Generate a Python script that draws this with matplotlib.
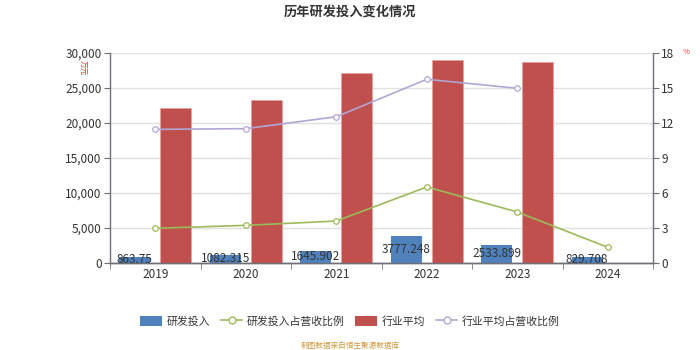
import numpy as np
import matplotlib
matplotlib.use('Agg')
import matplotlib.pyplot as plt
from matplotlib.patches import Patch
from matplotlib.lines import Line2D
from matplotlib.ticker import FuncFormatter, FixedLocator

plt.rcParams['font.family'] = ['Noto Sans CJK SC', 'DejaVu Sans']

# data
years = ['2019', '2020', '2021', '2022', '2023', '2024']
rd_spend = [863.75, 1082.315, 1645.902, 3777.248, 2533.899, 829.708]
rd_ratio = [2.95, 3.20, 3.57, 6.49, 4.35, 1.32]
ind_avg = [22050, 23230, 27050, 28960, 28700]
ind_ratio = [11.43, 11.49, 12.51, 15.72, 14.95]

c_blue = '#4f81bd'
c_red = '#c0504d'
c_green = '#9bbb59'
c_purple = '#b3a6d6'
c_text = '#333333'
c_axis = '#6e7079'

fig = plt.figure(figsize=(7, 3.5), dpi=100)
ax = fig.add_axes([110/700, 1 - 262.7/350, 543/700, 210/350])
ax2 = ax.twinx()

x = np.arange(len(years))
w = 0.345
off = 0.227

ax.bar(x - off, rd_spend, width=w, color=c_blue, zorder=3)
ax.bar(x[:len(ind_avg)] + off, ind_avg, width=w, color=c_red,
       edgecolor='#e8a0a0', linewidth=0.5, zorder=3)

for xi, v in zip(x, rd_spend):
    ax.text(xi - off, v / 2, str(v), ha='center', va='center',
            fontsize=8.5, color=c_text, zorder=5)

ax2.plot(x, rd_ratio, color=c_green, lw=1.2, marker='o', ms=4,
         mfc='white', mec=c_green, mew=0.9, zorder=4)
ax2.plot(x[:len(ind_ratio)], ind_ratio, color=c_purple, lw=1.2, marker='o',
         ms=4, mfc='white', mec=c_purple, mew=0.9, zorder=4)

ax.set_xlim(-0.5, len(years) - 0.5)
ax.set_ylim(0, 30000)
ax2.set_ylim(0, 18)
ax.set_yticks(np.arange(0, 30001, 5000))
ax2.set_yticks(np.arange(0, 19, 3))
ax.yaxis.set_major_formatter(FuncFormatter(lambda v, p: f'{int(v):,}'))

ax.set_xticks(x)
ax.set_xticklabels(years)
ax.xaxis.set_minor_locator(FixedLocator(np.arange(-0.5, len(years), 1)))
ax.tick_params(axis='x', which='major', length=0, pad=4, labelsize=8.5, labelcolor=c_text)
ax.tick_params(axis='x', which='minor', length=4, color=c_axis, direction='out')
ax.tick_params(axis='y', length=4, color=c_axis, labelsize=8.5, labelcolor=c_text, pad=2)
ax2.tick_params(axis='y', length=4, color=c_axis, labelsize=8.5, labelcolor=c_text, pad=2)

ax.grid(axis='y', color='#e0e0e0', lw=1, zorder=0)
ax.set_axisbelow(True)
for a in (ax, ax2):
    a.spines['top'].set_visible(False)
    for s in ('left', 'right', 'bottom'):
        a.spines[s].set_color(c_axis)
        a.spines[s].set_linewidth(1)
ax2.spines['left'].set_visible(False)
ax.spines['right'].set_visible(False)

fig.text(0.5, 1 - 12/350, '历年研发投入变化情况', ha='center', va='center',
         fontsize=9.5, fontweight='bold', color=c_text)
fig.text(82/700, 1 - 68/350, '万元', ha='center', va='center', rotation=-90,
         fontsize=5.5, color='#ee3333')
fig.text(686/700, 1 - 52/350, '%', ha='center', va='center',
         fontsize=5.5, color='#ee3333')

handles = [
    Patch(facecolor=c_blue, edgecolor='none'),
    Line2D([], [], color=c_green, lw=1.2, marker='o', ms=5, mfc='white', mec=c_green),
    Patch(facecolor=c_red, edgecolor='none'),
    Line2D([], [], color=c_purple, lw=1.2, marker='o', ms=5, mfc='white', mec=c_purple),
]
labels = ['研发投入', '研发投入占营收比例', '行业平均', '行业平均占营收比例']
fig.legend(handles, labels, loc='center', bbox_to_anchor=(350/700, 1 - 321/350),
           ncol=4, frameon=False, fontsize=7.8, handlelength=2.0, handleheight=1.0,
           handletextpad=0.4, columnspacing=1.0, labelcolor=c_text)

fig.text(0.5, 1 - 346/350, '制图数据来自恒生聚源数据库', ha='center', va='center',
         fontsize=5.5, color='#d09a40')

fig.savefig('out.png', dpi=100)
